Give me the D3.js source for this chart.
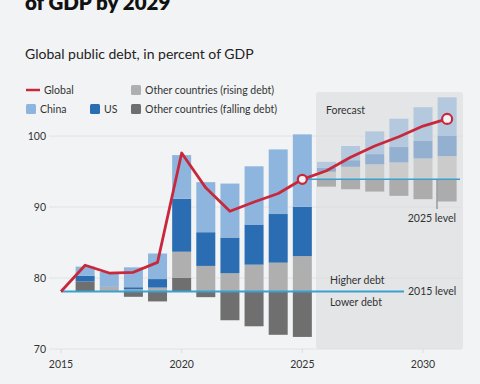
<!DOCTYPE html>
<html>
<head>
<meta charset="utf-8">
<script src="https://cdn.jsdelivr.net/npm/d3@7"></script>
<style>
  html, body { margin: 0; padding: 0; background: #f2f3f5; }
  svg { display: block; font-family: Lato, "Noto Sans", sans-serif; }
</style>
</head>
<body>
<svg width="480" height="384"></svg>
<script>
// Годы: история (2016-2025) и прогноз (2026-2031)
const years = [2016, 2017, 2018, 2019, 2020, 2021, 2022, 2023, 2024, 2025,
               2026, 2027, 2028, 2029, 2030, 2031];
const forecastStart = 2026;

// Вклад групп стран, п.п. ВВП (история — от уровня 2015, прогноз — от уровня 2025)
const china   = [1.3, 2.1, 2.8, 3.6, 6.15, 7.05, 7.6, 8.2, 9.1, 10.2, 0.84, 2.0, 3.2, 3.97, 4.75, 5.45];
const us      = [0.8, 0, 0.3, 1.2, 7.46, 4.75, 5.03, 5.65, 6.85, 6.95, 0.56, 0.93, 1.45, 2.18, 2.46, 2.84];
const rising  = [0, 0.65, 0.3, 0.55, 3.64, 3.6, 2.57, 3.78, 4.06, 4.98, 1.06, 1.76, 2.1, 2.38, 2.94, 3.26];
const falling = [1.4, 0, -0.75, -1.4, 1.96, -0.8, -4.05, -4.9, -6.1, -6.4, -1.03, -1.4, -1.73, -2.33, -2.8, -3.13];

const level2015 = 78.1;
const level2025 = 93.9;

// Глобальный долг, % ВВП
const globalYears = [2015, 2016, 2017, 2018, 2019, 2020, 2021, 2022, 2023, 2024, 2025,
                     2026, 2027, 2028, 2029, 2030, 2031];
const globalDebt  = [78.1, 81.8, 80.7, 80.8, 82.2, 97.6, 92.7, 89.4, 90.7, 91.9, 93.9,
                     95.1, 97.0, 98.6, 99.9, 101.4, 102.4];

const yTicks = [70, 80, 90, 100];
const xTicks = [2015, 2020, 2025, 2030];

const colors = {
    china: "#8db5dd", us: "#2a6db3", rising: "#afafaf", falling: "#6f6f6f",
    chinaF: "#b4c8de", usF: "#93b0d1", risingF: "#cbcbcc", fallingF: "#acacad",
    global: "#c8283c", level: "#3aa0cf", grid: "#dcdddf", text: "#333"
};

const svg = d3.select("svg");

const scaleX = d3.scaleLinear().domain([2015, 2030]).range([61, 423]);
const scaleY = d3.scaleLinear().domain([70, 100]).range([349, 136]);
const barWidth = 19;

// Заголовок (обрезан сверху, как на оригинале)
svg.append("text")
    .attr("x", 25).attr("y", 10)
    .attr("font-size", 20.5).attr("font-weight", 800).attr("fill", "#111")
    .text("of GDP by 2029");

svg.append("text")
    .attr("x", 25).attr("y", 59)
    .attr("font-size", 14).attr("fill", "#222")
    .text("Global public debt, in percent of GDP");

// Область прогноза
svg.append("rect")
    .attr("x", 316).attr("y", 92)
    .attr("width", 147).attr("height", scaleY(70) - 92)
    .attr("rx", 3)
    .attr("fill", "#e4e5e7");

// Сетка и подписи оси Y
svg.append("g").selectAll("line")
    .data(yTicks)
    .enter()
    .append("line")
    .attr("x1", 49).attr("x2", 462)
    .attr("y1", d => scaleY(d)).attr("y2", d => scaleY(d))
    .attr("stroke", colors.grid).attr("stroke-width", 0.8);

svg.append("g").selectAll("text")
    .data(yTicks)
    .enter()
    .append("text")
    .attr("x", 46)
    .attr("y", d => scaleY(d) + 4)
    .attr("text-anchor", "end")
    .attr("font-size", 10.5).attr("fill", colors.text)
    .text(d => d);

// Подписи и засечки оси X
svg.append("g").selectAll("line")
    .data(xTicks)
    .enter()
    .append("line")
    .attr("x1", d => scaleX(d)).attr("x2", d => scaleX(d))
    .attr("y1", scaleY(70)).attr("y2", scaleY(70) + 4)
    .attr("stroke", colors.grid);

svg.append("g").selectAll("text")
    .data(xTicks)
    .enter()
    .append("text")
    .attr("x", d => scaleX(d))
    .attr("y", 368)
    .attr("text-anchor", "middle")
    .attr("font-size", 10.5).attr("fill", colors.text)
    .text(d => d);

// Сегменты столбцов
const segments = [];
years.forEach((year, i) => {
    const isForecast = year >= forecastStart;
    let base = isForecast ? level2025 : level2015;
    let pos = base;
    let neg = base;
    const parts = [
        { v: falling[i], c: isForecast ? colors.fallingF : colors.falling },
        { v: rising[i], c: isForecast ? colors.risingF : colors.rising },
        { v: us[i], c: isForecast ? colors.usF : colors.us },
        { v: china[i], c: isForecast ? colors.chinaF : colors.china }
    ];
    parts.forEach(p => {
        if (p.v > 0) {
            segments.push({ year: year, y0: pos, y1: pos + p.v, color: p.c });
            pos += p.v;
        } else if (p.v < 0) {
            segments.push({ year: year, y0: neg + p.v, y1: neg, color: p.c });
            neg += p.v;
        }
    });
});

svg.append("g").selectAll("rect")
    .data(segments)
    .enter()
    .append("rect")
    .attr("x", d => scaleX(d.year) - barWidth / 2)
    .attr("y", d => scaleY(d.y1))
    .attr("width", barWidth)
    .attr("height", d => scaleY(d.y0) - scaleY(d.y1))
    .attr("fill", d => d.color);

// Уровни 2015 и 2025
svg.append("line")
    .attr("x1", scaleX(2015)).attr("x2", 404)
    .attr("y1", scaleY(level2015)).attr("y2", scaleY(level2015))
    .attr("stroke", colors.level).attr("stroke-width", 2);

svg.append("line")
    .attr("x1", scaleX(2025)).attr("x2", 460)
    .attr("y1", scaleY(level2025)).attr("y2", scaleY(level2025))
    .attr("stroke", colors.level).attr("stroke-width", 1.5);

svg.append("line")
    .attr("x1", 437).attr("x2", 437)
    .attr("y1", scaleY(level2025)).attr("y2", 209)
    .attr("stroke", "#777").attr("stroke-width", 1);

svg.append("text")
    .attr("x", 456).attr("y", 222)
    .attr("text-anchor", "end")
    .attr("font-size", 10.5).attr("fill", colors.text)
    .text("2025 level");

svg.append("text")
    .attr("x", 408).attr("y", scaleY(level2015) + 4)
    .attr("font-size", 10.5).attr("fill", colors.text)
    .text("2015 level");

svg.append("text")
    .attr("x", 330).attr("y", scaleY(level2015) - 7)
    .attr("font-size", 10.5).attr("fill", colors.text)
    .text("Higher debt");

svg.append("text")
    .attr("x", 330).attr("y", scaleY(level2015) + 15)
    .attr("font-size", 10.5).attr("fill", colors.text)
    .text("Lower debt");

svg.append("text")
    .attr("x", 326).attr("y", 114)
    .attr("font-size", 10.5).attr("fill", colors.text)
    .text("Forecast");

// Линия глобального долга
const line = d3.line()
    .x((d, i) => scaleX(globalYears[i]))
    .y(d => scaleY(d));

svg.append("path")
    .datum(globalDebt)
    .attr("fill", "none")
    .attr("stroke", colors.global)
    .attr("stroke-width", 2.8)
    .attr("stroke-linejoin", "round")
    .attr("d", line);

const markers = [10, 16];
svg.append("g").selectAll("circle")
    .data(markers)
    .enter()
    .append("circle")
    .attr("cx", i => scaleX(globalYears[i]))
    .attr("cy", i => scaleY(globalDebt[i]))
    .attr("r", (i, k) => k === 0 ? 4.5 : 5)
    .attr("fill", "#f2f3f5")
    .attr("stroke", colors.global)
    .attr("stroke-width", 2.2);

// Легенда
const legendRows = [
    { text: "Global", x: 26, y: 90, color: colors.global, type: "line" },
    { text: "Other countries (rising debt)", x: 131, y: 90, color: colors.rising, type: "box" },
    { text: "China", x: 26, y: 109, color: colors.china, type: "box" },
    { text: "US", x: 90, y: 109, color: colors.us, type: "box" },
    { text: "Other countries (falling debt)", x: 131, y: 109, color: colors.falling, type: "box" }
];

const legend = svg.append("g");
legendRows.forEach(d => {
    if (d.type === "line") {
        legend.append("line")
            .attr("x1", d.x).attr("x2", d.x + 14)
            .attr("y1", d.y).attr("y2", d.y)
            .attr("stroke", d.color).attr("stroke-width", 2.5);
    } else {
        legend.append("rect")
            .attr("x", d.x).attr("y", d.y - 5)
            .attr("width", 10).attr("height", 10)
            .attr("rx", 1.5)
            .attr("fill", d.color);
    }
    legend.append("text")
        .attr("x", d.type === "line" ? d.x + 18 : d.x + 14)
        .attr("y", d.y + 3.5)
        .attr("font-size", 10.5).attr("fill", colors.text)
        .text(d.text);
});
</script>
</body>
</html>
